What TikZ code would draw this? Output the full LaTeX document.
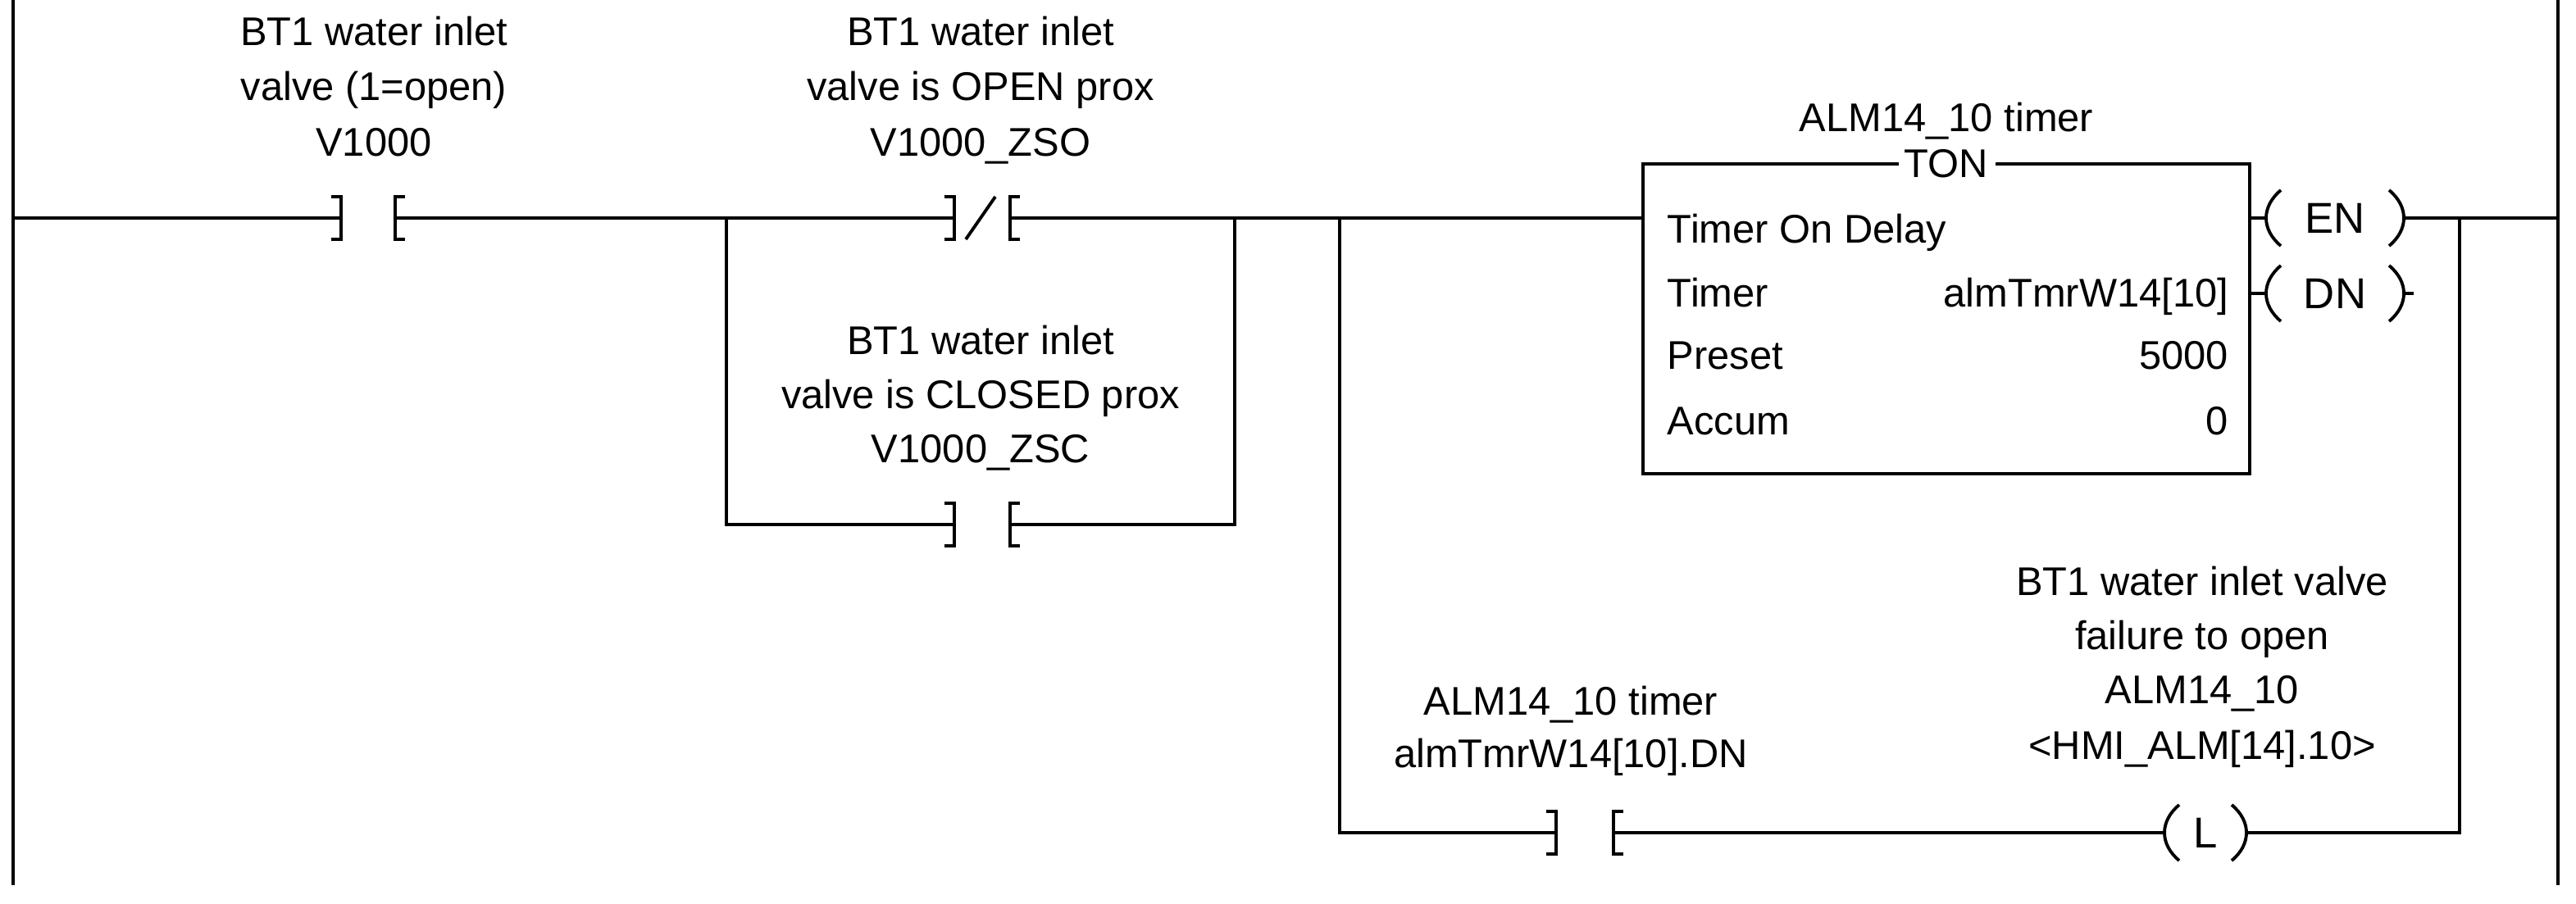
\documentclass[tikz,border=0pt]{standalone}
\usepackage{fontspec}
\setmainfont{Liberation Sans}
\begin{document}
\begin{tikzpicture}[x=0.02cm,y=-0.02cm,line width=1.1pt,
  lbl/.style={font=\fontsize{13.9pt}{16pt}\selectfont,inner sep=0pt,anchor=base},
  txt/.style={font=\fontsize{13.9pt}{16pt}\selectfont,inner sep=0pt,anchor=base west},
  txr/.style={font=\fontsize{13.9pt}{16pt}\selectfont,inner sep=0pt,anchor=base east}]
\useasboundingbox (0,0) rectangle (1571,551);
\newcommand{\xic}[3]{%
  \draw (#1-6,#3-13) -- (#1,#3-13) -- (#1,#3+13) -- (#1-6,#3+13);
  \draw (#2+6,#3-13) -- (#2,#3-13) -- (#2,#3+13) -- (#2+6,#3+13);}
\newcommand{\coil}[4]{%
  \draw (#1+10,#3-17) .. controls (#1-2,#3-7) and (#1-2,#3+7) .. (#1+10,#3+17);
  \draw (#2-10,#3-17) .. controls (#2+2,#3-7) and (#2+2,#3+7) .. (#2-10,#3+17);
  \node[font=\fontsize{15pt}{16pt}\selectfont,inner sep=0pt] at ({(#1+#2)/2},#3) {#4};}
% rails
\coordinate (L0) at (8,0); \coordinate (L1) at (8,540);
\coordinate (R0) at (1560,0); \coordinate (R1) at (1560,540);
\draw (L0) -- (L1); \draw (R0) -- (R1);
% contact 1
\xic{208}{241}{133}
\draw (8,133) -- (208,133);
\draw (241,133) -- (443,133);
\node[lbl] at (228,28) {BT1 water inlet};
\node[lbl] at (228,61) {valve (1=open)};
\node[lbl] at (228,95) {V1000};
% branch
\draw (443,133) -- (443,320) -- (582,320);
\xic{582}{616}{133}
\draw (443,133) -- (582,133);
\draw (589,146) -- (607,120);
\draw (616,133) -- (753,133) -- (753,320) -- (616,320);
\xic{582}{616}{320}
\node[lbl] at (598,28) {BT1 water inlet};
\node[lbl] at (598,61) {valve is OPEN prox};
\node[lbl] at (598,95) {V1000\_ZSO};
\node[lbl] at (598,216) {BT1 water inlet};
\node[lbl] at (598,249) {valve is CLOSED prox};
\node[lbl] at (598,282) {V1000\_ZSC};
% second branch
\draw (753,133) -- (1002,133);
\draw (817,133) -- (817,508) -- (949,508);
\xic{949}{984}{508}
\draw (984,508) -- (1320,508);
\node[lbl] at (958,436) {ALM14\_10 timer};
\node[lbl] at (958,468) {almTmrW14[10].DN};
% timer box
\draw (1158,100) -- (1002,100) -- (1002,289) -- (1372,289) -- (1372,100) -- (1217,100);
\node[lbl] at (1187,80) {ALM14\_10 timer};
\node[lbl] at (1187,108) {TON};
\node[txt] at (1016,148) {Timer On Delay};
\node[txt] at (1016,187) {Timer};
\node[txr] at (1360,187) {almTmrW14[10]};
\node[txt] at (1016,225) {Preset};
\node[txr] at (1360,225) {5000};
\node[txt] at (1016,265) {Accum};
\node[txr] at (1360,265) {0};
% outputs
\draw (1372,133) -- (1382,133);
\coil{1381}{1467}{133}{EN}
\draw (1466,133) -- (1560,133);
\draw (1372,179) -- (1382,179);
\coil{1381}{1467}{179}{DN}
\draw (1466,179) -- (1472,179);
\draw (1500,133) -- (1500,508) -- (1370,508);
\coil{1319}{1371}{508}{L}
\node[lbl] at (1343,363) {BT1 water inlet valve};
\node[lbl] at (1343,396) {failure to open};
\node[lbl] at (1343,429) {ALM14\_10};
\node[lbl] at (1343,463) {<HMI\_ALM[14].10>};
\end{tikzpicture}
\end{document}
